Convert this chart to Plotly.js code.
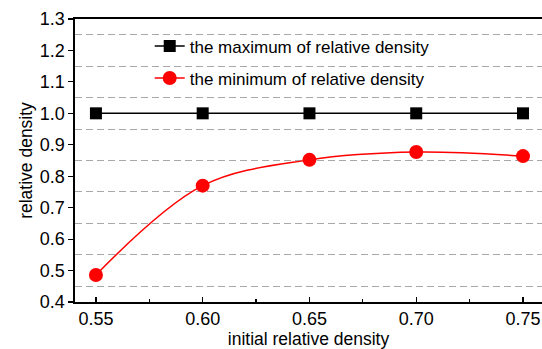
<!DOCTYPE html>
<html>
<head>
<meta charset="utf-8">
<script src="https://cdn.plot.ly/plotly-3.0.1.min.js"></script>
<style>html,body{margin:0;padding:0;overflow:hidden;background:#fff;}</style>
</head>
<body>
<div id="chart" style="width:542px;height:349px;"></div>
<script>
const initialDensity = [0.55, 0.60, 0.65, 0.70, 0.75];
const maxDensity = [1.0, 1.0, 1.0, 1.0, 1.0];
const minDensity = [0.486, 0.770, 0.852, 0.877, 0.864];
const seriesNames = ["the maximum of relative density", "the minimum of relative density"];
const xTickVals = [0.55, 0.60, 0.65, 0.70, 0.75];
const xTickText = ["0.55", "0.60", "0.65", "0.70", "0.75"];
const yTickVals = [0.4, 0.5, 0.6, 0.7, 0.8, 0.9, 1.0, 1.1, 1.2, 1.3];
const yTickText = ["0.4", "0.5", "0.6", "0.7", "0.8", "0.9", "1.0", "1.1", "1.2", "1.3"];

const font = "Liberation Sans, Arial, sans-serif";

const traces = [
  {
    x: initialDensity, y: maxDensity, name: seriesNames[0], legendgroup: "a",
    mode: "lines+markers", type: "scatter",
    line: {color: "#000000", width: 1.5},
    marker: {symbol: "square", size: 12, color: "#000000"}
  },
  {
    x: initialDensity, y: minDensity, name: seriesNames[1], legendgroup: "b",
    mode: "lines+markers", type: "scatter",
    line: {color: "#ff0000", width: 1.5, shape: "spline", smoothing: 1},
    marker: {symbol: "circle", size: 14, color: "#ff0000"}
  }
];

const layout = {
  width: 542, height: 349,
  margin: {l: 75, r: 0, t: 19, b: 47},
  paper_bgcolor: "#ffffff", plot_bgcolor: "#ffffff",
  font: {family: font, color: "#000000"},
  showlegend: true,
  legend: {
    x: 0.16, y: 0.967, xanchor: "left", yanchor: "top",
    bgcolor: "rgba(0,0,0,0)", font: {size: 17, family: font},
    traceorder: "grouped", tracegroupgap: 7
  },
  xaxis: {
    range: [0.5402, 0.7589],
    tickvals: xTickVals, ticktext: xTickText,
    ticks: "inside", ticklen: 5, tickwidth: 1.2, tickcolor: "#000",
    minor: {tickvals: [0.575, 0.625, 0.675, 0.725], ticks: "inside", ticklen: 3, tickcolor: "#000", showgrid: false},
    showline: true, linecolor: "#000", linewidth: 1.6, mirror: true,
    showgrid: false, zeroline: false,
    tickfont: {size: 18, family: font},
    title: {text: "initial relative density", font: {size: 17.5, family: font}, standoff: 4}
  },
  yaxis: {
    range: [0.4, 1.3],
    tickvals: yTickVals, ticktext: yTickText,
    ticks: "outside", ticklen: 5, tickwidth: 1.2, tickcolor: "#000",
    showline: true, linecolor: "#000", linewidth: 1.6, mirror: false,
    showgrid: false, zeroline: false,
    minor: {tickvals: [0.45, 0.55, 0.65, 0.75, 0.85, 0.95, 1.05, 1.15, 1.25], ticks: "", showgrid: true, gridcolor: "#a8a8a8", gridwidth: 1, griddash: "7px,4px"},
    tickfont: {size: 18, family: font},
    title: {text: "relative density", font: {size: 17.5, family: font}, standoff: 2}
  }
};

Plotly.newPlot("chart", traces, layout, {displayModeBar: false, staticPlot: true});
</script>
</body>
</html>
